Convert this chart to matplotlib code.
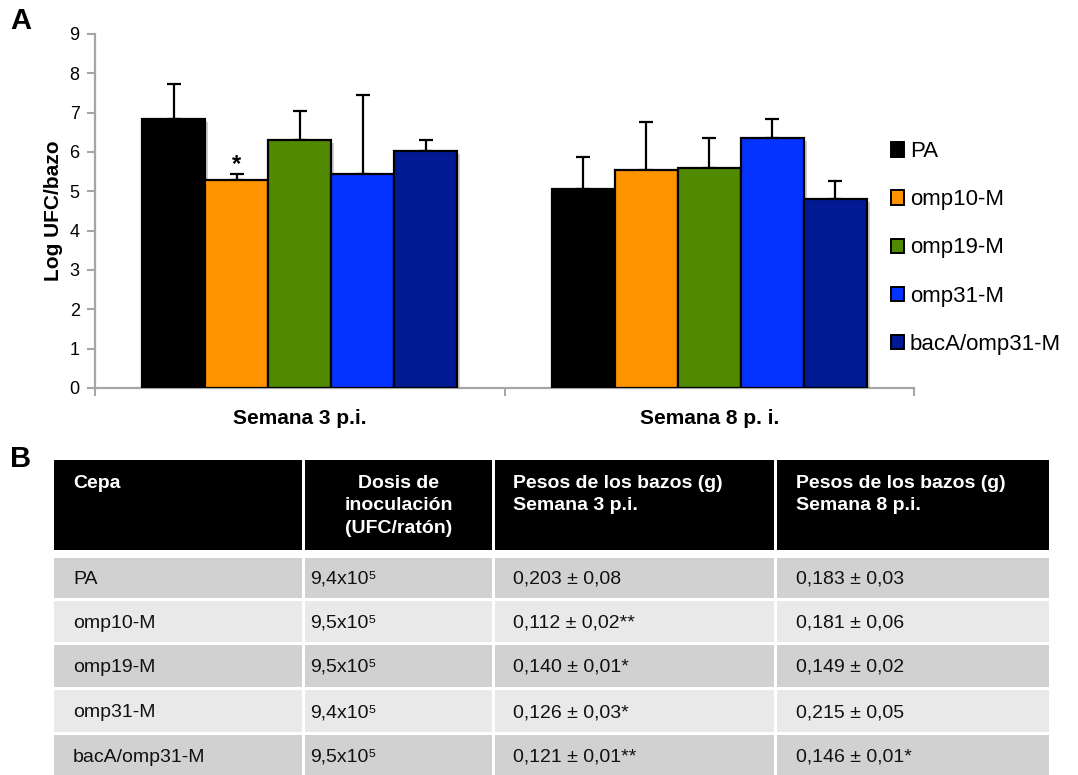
import numpy as np
import matplotlib
matplotlib.use("Agg")
import matplotlib.pyplot as plt
from matplotlib.patches import Patch, Rectangle
from matplotlib import patheffects as pe

plt.rcParams["font.family"] = ["Liberation Sans", "DejaVu Sans"]

# ---- bar chart data (Log UFC/bazo) ----
groups = ["Semana 3 p.i.", "Semana 8 p. i."]
strains = ["PA", "omp10-M", "omp19-M", "omp31-M", "bacA/omp31-M"]
colors = ["#000000", "#FF9300", "#4F8A00", "#0433FF", "#011993"]
means_w3 = [6.83, 5.29, 6.30, 5.43, 6.02]
sd_w3 = [0.89, 0.14, 0.74, 2.01, 0.28]
means_w8 = [5.05, 5.53, 5.60, 6.35, 4.80]
sd_w8 = [0.83, 1.23, 0.75, 0.48, 0.47]
yticks = list(range(0, 10))

# ---- table data ----
header = ["Cepa", "Dosis de\ninoculación\n(UFC/ratón)",
          "Pesos de los bazos (g)\nSemana 3 p.i.",
          "Pesos de los bazos (g)\nSemana 8 p.i."]
cepas = ["PA", "omp10-M", "omp19-M", "omp31-M", "bacA/omp31-M"]
dosis = ["9,4x10⁵", "9,5x10⁵", "9,5x10⁵", "9,4x10⁵", "9,5x10⁵"]
peso_w3 = ["0,203 ± 0,08", "0,112 ± 0,02**", "0,140 ± 0,01*",
           "0,126 ± 0,03*", "0,121 ± 0,01**"]
peso_w8 = ["0,183 ± 0,03", "0,181 ± 0,06", "0,149 ± 0,02",
           "0,215 ± 0,05", "0,146 ± 0,01*"]

W, H = 1078, 775
fig = plt.figure(figsize=(W / 100, H / 100), dpi=100)

# ---------------- table (pixel coordinates) ----------------
tab = fig.add_axes([0, 0, 1, 1])
tab.set_xlim(0, W)
tab.set_ylim(H, 0)
tab.axis("off")

col_edges = [(54, 302), (305, 492), (495, 774), (777, 1049)]
head_span = (460, 550)
row_spans = [(558, 598), (601, 642), (645, 687), (690, 732), (735, 776)]
row_fill = ["#d1d1d1", "#e9e9e9"]
text_x = [73, 310, 513, 796]

for (x0, x1) in col_edges:
    tab.add_patch(Rectangle((x0, head_span[0]), x1 - x0,
                            head_span[1] - head_span[0],
                            facecolor="black", edgecolor="none"))
for j, label in enumerate(header):
    if j == 1:
        xc = (col_edges[1][0] + col_edges[1][1]) / 2
        tab.text(xc, 475, label, ha="center", va="top", color="white",
                 fontsize=14, fontweight="bold", linespacing=1.42,
                 multialignment="center")
    else:
        tab.text(text_x[j], 475, label, ha="left", va="top", color="white",
                 fontsize=14, fontweight="bold", linespacing=1.42)

columns = [cepas, dosis, peso_w3, peso_w8]
for i, (r0, r1) in enumerate(row_spans):
    for (x0, x1) in col_edges:
        tab.add_patch(Rectangle((x0, r0), x1 - x0, r1 - r0,
                                facecolor=row_fill[i % 2], edgecolor="none"))
    yb = (r0 + r1) / 2 + 6
    for j, col in enumerate(columns):
        tab.text(text_x[j], yb, col[i], ha="left", va="baseline",
                 fontsize=14, color="#111111")

fig.text(10 / W, 1 - 21 / H, "A", fontsize=21, fontweight="bold", va="center")
fig.text(10 / W, 1 - 459 / H, "B", fontsize=21, fontweight="bold", va="center")

# ---------------- bar chart ----------------
ax = fig.add_axes([95 / W, 1 - 388 / H, (914 - 95) / W, (388 - 34) / H])
x = np.arange(len(groups))
width = 0.154
axis_grey = "#a6a6a6"
shadow = [pe.SimplePatchShadow(offset=(2, -2), shadow_rgbFace="#777777", alpha=0.35),
          pe.Normal()]

for i, name in enumerate(strains):
    pos = x + (i - 2) * width
    vals = [means_w3[i], means_w8[i]]
    errs = [sd_w3[i], sd_w8[i]]
    ax.errorbar(pos, vals, yerr=[np.zeros(2), errs], fmt="none",
                ecolor="black", elinewidth=1.6, capsize=5, capthick=1.6,
                zorder=2)
    bars = ax.bar(pos, vals, width, color=colors[i], edgecolor="black",
                  linewidth=1.6, zorder=3)
    for b in bars:
        b.set_path_effects(shadow)

# significance mark above omp10-M, week 3
ax.annotate("*", xy=(x[0] + (1 - 2) * width, means_w3[1] + sd_w3[1]),
            xytext=(0, -1), textcoords="offset points", ha="center",
            va="bottom", fontsize=17, fontweight="bold")

ax.set_xlim(-0.5, 1.5)
ax.set_ylim(0, 9)
ax.set_yticks(yticks)
ax.tick_params(axis="y", colors=axis_grey, labelcolor="black", labelsize=13,
               length=6, width=1.5, pad=5)
ax.set_xticks(x)
ax.set_xticklabels(groups, fontsize=15, fontweight="bold")
ax.tick_params(axis="x", length=0, pad=15)
ax.set_xticks([-0.5, 0.5, 1.5], minor=True)
ax.tick_params(axis="x", which="minor", length=6, width=1.5, colors=axis_grey)
for s in ["top", "right"]:
    ax.spines[s].set_visible(False)
for s in ["left", "bottom"]:
    ax.spines[s].set_color(axis_grey)
    ax.spines[s].set_linewidth(1.6)
ax.set_ylabel("Log UFC/bazo", fontsize=15, fontweight="bold")
ax.yaxis.set_label_coords(-0.039, 0.5)

handles = [Patch(facecolor=c, edgecolor="black", linewidth=1.4) for c in colors]
fig.legend(handles, strains, loc="center left",
           bbox_to_anchor=(891 / W, 1 - 248 / H), frameon=False,
           fontsize=16, handlelength=0.6, handleheight=0.6,
           handletextpad=0.25, labelspacing=1.22, borderpad=0,
           borderaxespad=0)

fig.savefig("out.png", dpi=100)
